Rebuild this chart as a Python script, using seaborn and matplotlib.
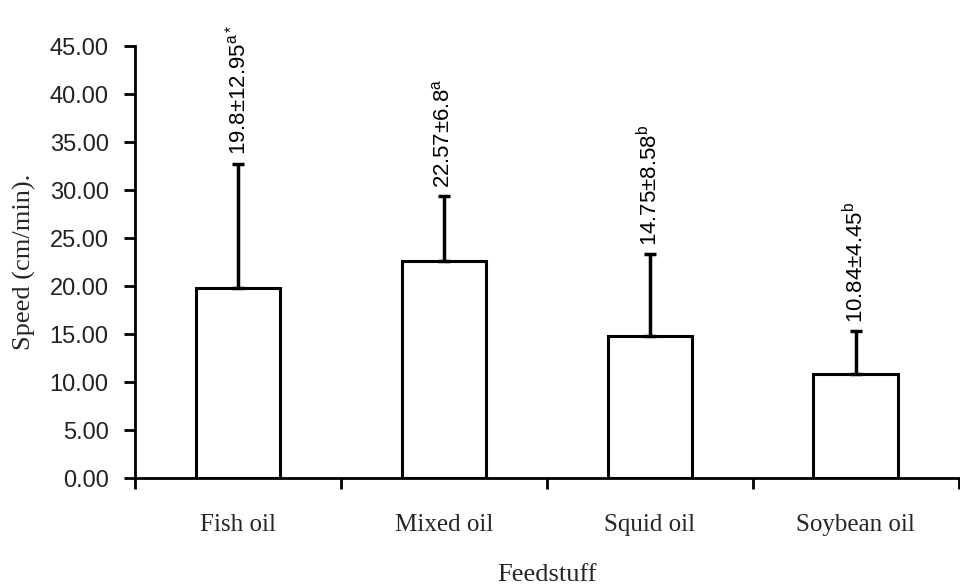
import matplotlib
matplotlib.use("Agg")
import matplotlib.pyplot as plt
import seaborn as sns
import pandas as pd
import numpy as np
from matplotlib.ticker import FixedLocator, FormatStrFormatter

categories = ["Fish oil", "Mixed oil", "Squid oil", "Soybean oil"]
means = [19.8, 22.57, 14.75, 10.84]
sds = [12.95, 6.8, 8.58, 4.45]
letters = ["a*", "a", "b", "b"]
labels = ["19.8±12.95", "22.57±6.8", "14.75±8.58", "10.84±4.45"]

sns.set_theme(style="white")
plt.rcParams["font.family"] = ["Liberation Sans", "DejaVu Sans"]
plt.rcParams["mathtext.fontset"] = "custom"
plt.rcParams["mathtext.rm"] = "Liberation Sans"
plt.rcParams["mathtext.it"] = "Liberation Sans"

df = pd.DataFrame({"Feedstuff": categories, "Speed": means})

fig = plt.figure(figsize=(9.6, 5.84), dpi=100)
ax = fig.add_axes([0.1406, 0.1815, 0.858, 0.7397])

sns.barplot(data=df, x="Feedstuff", y="Speed", order=categories, color="white",
            edgecolor="black", linewidth=2.2, width=0.41, ax=ax, errorbar=None,
            saturation=1)

pos = np.arange(len(categories))
ax.errorbar(pos, means, yerr=[np.zeros(len(sds)), sds], fmt="none", ecolor="black",
            elinewidth=2.5, capsize=4, capthick=2.5)

for x, m, s, lab, let in zip(pos, means, sds, labels, letters):
    ax.annotate(lab + r"$^{\mathrm{" + let + "}}$", xy=(x, m + s), xytext=(0, 6),
                textcoords="offset points", rotation=90, ha="center", va="bottom",
                fontsize=16, color="black")

ax.set_xlim(-0.5, len(categories) - 0.5)
ax.set_ylim(0, 45)
ax.yaxis.set_major_locator(FixedLocator(np.arange(0, 46, 5)))
ax.yaxis.set_major_formatter(FormatStrFormatter("%.2f"))

ax.set_xticks(pos)
ax.set_xticklabels(categories, fontfamily="Liberation Serif", fontsize=18)
ax.xaxis.set_minor_locator(FixedLocator(np.arange(-0.5, len(categories), 1.0)))
ax.tick_params(axis="x", which="major", length=0, pad=26)
ax.tick_params(axis="x", which="minor", length=8, width=2, direction="out",
               color="black", bottom=True)
ax.tick_params(axis="y", which="major", length=8, width=2, direction="out",
               color="black", left=True, labelsize=17, pad=11)
for t in ax.get_yticklabels():
    t.set_color("#222222")

sns.despine(ax=ax, top=True, right=True)
for sp in ["left", "bottom"]:
    ax.spines[sp].set_linewidth(2)
    ax.spines[sp].set_color("black")

ax.set_xlabel("Feedstuff", fontfamily="Liberation Serif", fontsize=19, labelpad=20)
ax.set_ylabel("Speed (cm/min).", fontfamily="Liberation Serif", fontsize=19, labelpad=10)

fig.savefig("out.png", dpi=100, facecolor="white")
